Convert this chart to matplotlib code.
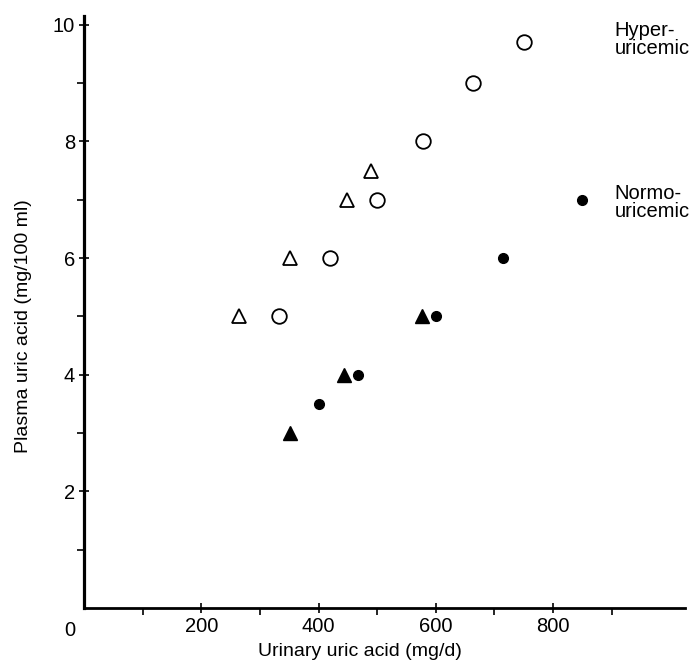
import matplotlib
matplotlib.use("Agg")
import matplotlib.pyplot as plt
from matplotlib.ticker import FixedLocator

plt.rcParams['font.family'] = ['Liberation Sans', 'DejaVu Sans']

# Data (urinary uric acid mg/d, plasma uric acid mg/100 ml)
hyper_open_circle_x = [332, 419, 499, 579, 663, 750]
hyper_open_circle_y = [5.0, 6.0, 7.0, 8.0, 9.0, 9.7]
hyper_open_tri_x = [264, 352, 449, 490]
hyper_open_tri_y = [5.0, 6.0, 7.0, 7.5]
normo_tri_x = [352, 443, 577]
normo_tri_y = [3.0, 4.0, 5.0]
normo_circle_x = [400, 467, 601, 714, 850]
normo_circle_y = [3.5, 4.0, 5.0, 6.0, 7.0]

x_ticks = [200, 400, 600, 800]
y_ticks = [2, 4, 6, 8, 10]

fig = plt.figure(figsize=(6.95, 6.64), dpi=100)
ax = fig.add_axes([0.1209, 0.0843, 0.9856 - 0.1209, 0.976 - 0.0843])

ax.plot(hyper_open_circle_x, hyper_open_circle_y, linestyle='none', marker='o',
        markersize=10.5, markerfacecolor='white', markeredgecolor='black', markeredgewidth=1.3)
ax.plot(hyper_open_tri_x, hyper_open_tri_y, linestyle='none', marker='^',
        markersize=10, markerfacecolor='white', markeredgecolor='black', markeredgewidth=1.3)
ax.plot(normo_tri_x, normo_tri_y, linestyle='none', marker='^',
        markersize=10.5, markerfacecolor='black', markeredgecolor='black')
ax.plot(normo_circle_x, normo_circle_y, linestyle='none', marker='o',
        markersize=7, markerfacecolor='black', markeredgecolor='black')

ax.set_xlim(0, 1025)
ax.set_ylim(0, 10.15)

ax.spines['top'].set_visible(False)
ax.spines['right'].set_visible(False)
ax.spines['left'].set_linewidth(2.3)
ax.spines['bottom'].set_linewidth(2.0)

ax.xaxis.set_major_locator(FixedLocator(x_ticks))
ax.xaxis.set_minor_locator(FixedLocator([100, 300, 500, 700, 900]))
ax.yaxis.set_major_locator(FixedLocator(y_ticks))
ax.yaxis.set_minor_locator(FixedLocator([1, 3, 5, 7, 9]))

ax.tick_params(axis='both', which='major', direction='inout', length=7, width=1.2,
               labelsize=14.5, pad=3)
ax.tick_params(axis='both', which='minor', direction='out', length=5, width=1.2)

ax.text(-24, -0.22, '0', fontsize=14.5, ha='center', va='top')

fig.text(360 / 695, 1 - 651 / 664, 'Urinary uric acid (mg/d)', fontsize=14,
         ha='center', va='center')
fig.text(24 / 695, 1 - 326 / 664, 'Plasma uric acid (mg/100 ml)', fontsize=14,
         ha='center', va='center', rotation=90)

ax.text(905, 9.74, 'Hyper-\nuricemic', fontsize=14.5, ha='left', va='center',
        linespacing=0.95)
ax.text(905, 6.95, 'Normo-\nuricemic', fontsize=14.5, ha='left', va='center',
        linespacing=0.95)

fig.savefig('out.png', dpi=100)
